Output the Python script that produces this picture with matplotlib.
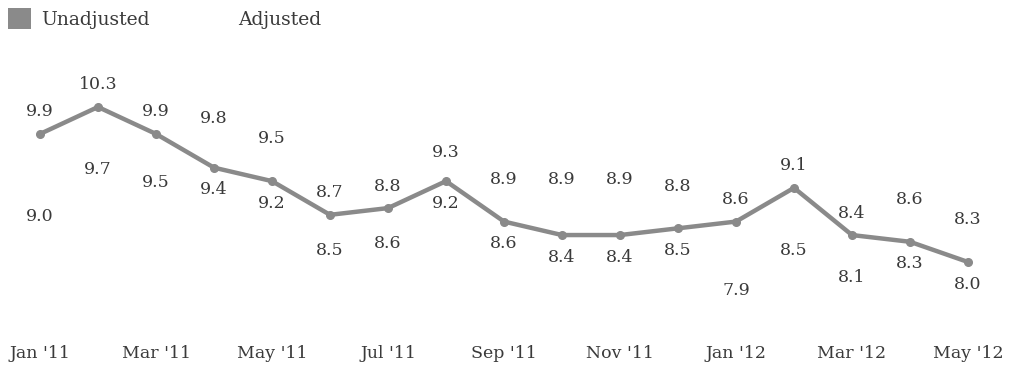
import matplotlib.pyplot as plt
from matplotlib.patches import Patch
import numpy as np

months = ["Jan '11", "Feb '11", "Mar '11", "Apr '11", "May '11", "Jun '11", "Jul '11", "Aug '11",
          "Sep '11", "Oct '11", "Nov '11", "Dec '11", "Jan '12", "Feb '12", "Mar '12", "Apr '12", "May '12"]
unadjusted = [9.9, 10.3, 9.9, 9.4, 9.2, 8.7, 8.8, 9.2, 8.6, 8.4, 8.4, 8.5, 8.6, 9.1, 8.4, 8.3, 8.0]
adjusted = [9.0, 9.7, 9.5, 9.8, 9.5, 8.5, 8.6, 9.3, 8.9, 8.9, 8.9, 8.8, 7.9, 8.5, 8.1, 8.6, 8.3]

plt.rcParams['font.family'] = ['DejaVu Serif']

fig = plt.figure(figsize=(10.1, 3.67), dpi=100)
ax = fig.add_axes([0, 1 - 335 / 367, 1, (335 - 60) / 367])

x = np.arange(len(months))
ax.plot(x, unadjusted, color='#8a8a8a', linewidth=3.2, marker='o', markersize=5.5,
        solid_joinstyle='round', clip_on=False)

# labels: higher value of each month above its point, lower one below
for i in range(len(months)):
    for v, other in ((unadjusted[i], adjusted[i]), (adjusted[i], unadjusted[i])):
        dy = 22 if v >= other else -22
        ax.annotate('%.1f' % v, (x[i], v), xytext=(0, dy), textcoords='offset pixels',
                    ha='center', va='center', fontsize=12.5, color='#3a3a3a')

ax.set_xlim(-40 / 58, 16 + 42 / 58)
ax.set_ylim(8.0 - 73 / 67.4, 10.3 + 47 / 67.4)
ax.set_xticks(x[::2])
ax.set_xticklabels(months[::2], fontsize=12.5, color='#3a3a3a')
ax.set_yticks([])
ax.tick_params(axis='x', length=0, pad=7)
for s in ax.spines.values():
    s.set_visible(False)

handles = [Patch(facecolor='#8a8a8a', edgecolor='none'), Patch(facecolor='none', edgecolor='none')]
fig.legend(handles, ['Unadjusted', 'Adjusted'], loc='upper left', bbox_to_anchor=(0.0, 1.0),
           ncol=2, frameon=False, fontsize=13.5, handlelength=1.2, handleheight=1.3,
           handletextpad=0.55, columnspacing=2.95, borderaxespad=0.05, labelcolor='#3a3a3a')

fig.savefig('out.png', dpi=100, facecolor='white')
